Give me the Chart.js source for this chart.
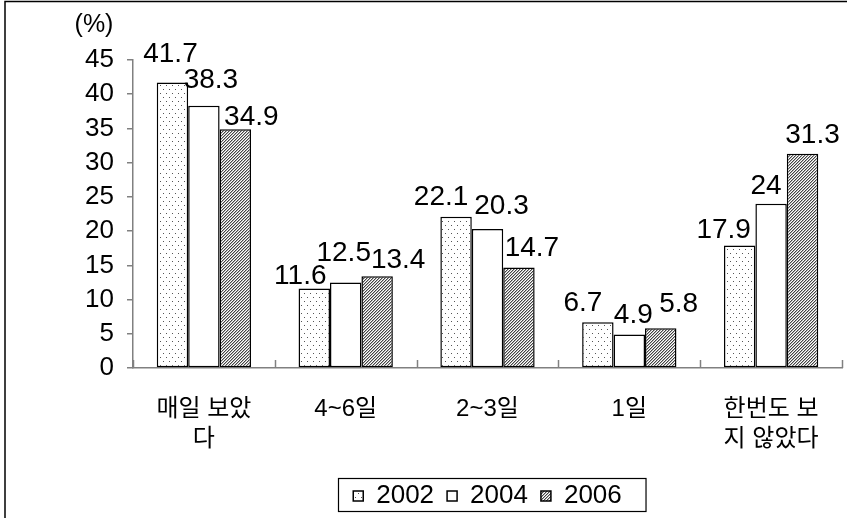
<!DOCTYPE html>
<html>
<head>
<meta charset="utf-8">
<script src="https://cdn.jsdelivr.net/npm/chart.js@4/dist/chart.umd.min.js"></script>
<style>
  body { margin: 0; background: #fff; }
  #mycanvas { display: block; }
</style>
</head>
<body>
<canvas id="mycanvas" width="847" height="518"></canvas>
<script>
// categories (multi-line labels are arrays)
var categories = [['매일 보았', '다'], '4~6일', '2~3일', '1일', ['한번도 보', '지 않았다']];
var years = ['2002', '2004', '2006'];
var v2002 = [41.7, 11.6, 22.1, 6.7, 17.9];
var v2004 = [38.3, 12.5, 20.3, 4.9, 24];
var v2006 = [34.9, 13.4, 14.7, 5.8, 31.3];
var yMax = 45;
var yStep = 5;

var FONT = "'Liberation Sans', 'Noto Sans CJK KR', sans-serif";

// hand-placed value labels (like the original): shift x, height of label centre above bar top
var labelDx = [[-2, -14, -15, -15, -16], [7, -2, 14, 4, -5], [16, 21, 13, 18, 10]];
var labelRise = [[29, 13, 20, 20, 16], [27, 30, 24, 20, 18], [13, 17, 20, 25, 19]];

// fill patterns
function dotPattern() {
  var c = document.createElement('canvas');
  c.width = 6; c.height = 8;
  var g = c.getContext('2d');
  g.fillStyle = '#fff';
  g.fillRect(0, 0, 6, 8);
  g.fillStyle = '#555';
  g.fillRect(1, 1, 1, 1);
  g.fillRect(4, 5, 1, 1);
  return g.createPattern(c, 'repeat');
}
function hatchPattern() {
  var c = document.createElement('canvas');
  c.width = 3; c.height = 3;
  var g = c.getContext('2d');
  g.fillStyle = '#fff';
  g.fillRect(0, 0, 3, 3);
  g.fillStyle = '#444';
  for (var i = 0; i < 3; i++) g.fillRect(2 - i, i, 1, 1);
  g.fillStyle = '#b0b0b0';
  for (var i = 0; i < 3; i++) g.fillRect((3 - i) % 3, i, 1, 1);
  return g.createPattern(c, 'repeat');
}

var ctx = document.getElementById('mycanvas').getContext('2d');

var chartdata = {
  labels: categories,
  datasets: [
    { label: years[0], data: v2002, backgroundColor: dotPattern(), borderColor: '#000', borderWidth: 1.5, borderSkipped: false },
    { label: years[1], data: v2004, backgroundColor: '#fff', borderColor: '#000', borderWidth: 1.5, borderSkipped: false },
    { label: years[2], data: v2006, backgroundColor: hatchPattern(), borderColor: '#000', borderWidth: 1.5, borderSkipped: false }
  ]
};

// outer frame, "(%)" unit, inward x ticks, value labels, legend frame
var extras = {
  id: 'extras',
  beforeDraw: function(chart) {
    var c = chart.ctx;
    c.save();
    c.fillStyle = '#fff';
    c.fillRect(0, 0, chart.width, chart.height);
    c.strokeStyle = '#000';
    c.lineWidth = 1.5;
    c.strokeRect(5, 1.5, chart.width + 20, chart.height + 20);
    c.restore();
  },
  afterDraw: function(chart) {
    var c = chart.ctx;
    var xs = chart.scales.x, ys = chart.scales.y;
    c.save();
    // unit label
    c.fillStyle = '#000';
    c.font = '25px ' + FONT;
    c.textAlign = 'center';
    c.textBaseline = 'middle';
    c.fillText('(%)', 94, 25);
    // inward ticks on category boundaries
    c.strokeStyle = '#808080';
    c.lineWidth = 1.5;
    for (var i = 0; i <= categories.length; i++) {
      var x = Math.round(xs.getPixelForValue(i - 0.5)) + 0.5;
      c.beginPath();
      c.moveTo(x, ys.bottom);
      c.lineTo(x, ys.bottom - 8);
      c.stroke();
    }
    // value labels
    c.fillStyle = '#000';
    c.font = '28px ' + FONT;
    c.textAlign = 'center';
    c.textBaseline = 'middle';
    chart.data.datasets.forEach(function(ds, di) {
      chart.getDatasetMeta(di).data.forEach(function(bar, j) {
        c.fillText(String(ds.data[j]), bar.x + labelDx[di][j], bar.y - labelRise[di][j] + 1);
      });
    });
    // legend frame
    var hb = chart.legend.legendHitBoxes;
    if (hb && hb.length) {
      var l = hb[0].left, r = hb[hb.length - 1].left + hb[hb.length - 1].width;
      var t = hb[0].top, h = hb[0].height;
      c.strokeStyle = '#000';
      c.lineWidth = 1.2;
      c.strokeRect(Math.round(l) - 14.5, Math.round(t) - 4.5, r - l + 39, h + 7);
    }
    c.restore();
  }
};

var BarGraph = new Chart(ctx, {
  type: 'bar',
  data: chartdata,
  plugins: [extras],
  options: {
    responsive: false,
    animation: false,
    layout: { padding: { top: 60, right: 5, bottom: -1, left: 0 } },
    datasets: { bar: { categoryPercentage: 0.665, barPercentage: 1.0 } },
    plugins: {
      tooltip: { enabled: false },
      legend: {
        position: 'bottom',
        fullSize: false,
        labels: {
          color: '#000',
          font: { family: FONT, size: 26 },
          boxWidth: 10,
          boxHeight: 10,
          padding: 13
        }
      }
    },
    scales: {
      x: {
        grid: { display: false, drawTicks: false },
        border: { color: '#808080', width: 1.5 },
        ticks: { color: '#000', font: { family: FONT, size: 24, lineHeight: 1.25 }, padding: 26, maxRotation: 0, autoSkip: false },
        afterFit: function(scale) { scale.height = 102; }
      },
      y: {
        min: 0,
        max: yMax,
        grid: { drawOnChartArea: false, tickLength: 6, color: '#808080', lineWidth: 1.5 },
        border: { color: '#808080', width: 1.5 },
        ticks: { stepSize: yStep, color: '#000', font: { family: FONT, size: 26 }, padding: 13 },
        afterFit: function(scale) { scale.width = 133; }
      }
    }
  }
});
</script>
</body>
</html>
